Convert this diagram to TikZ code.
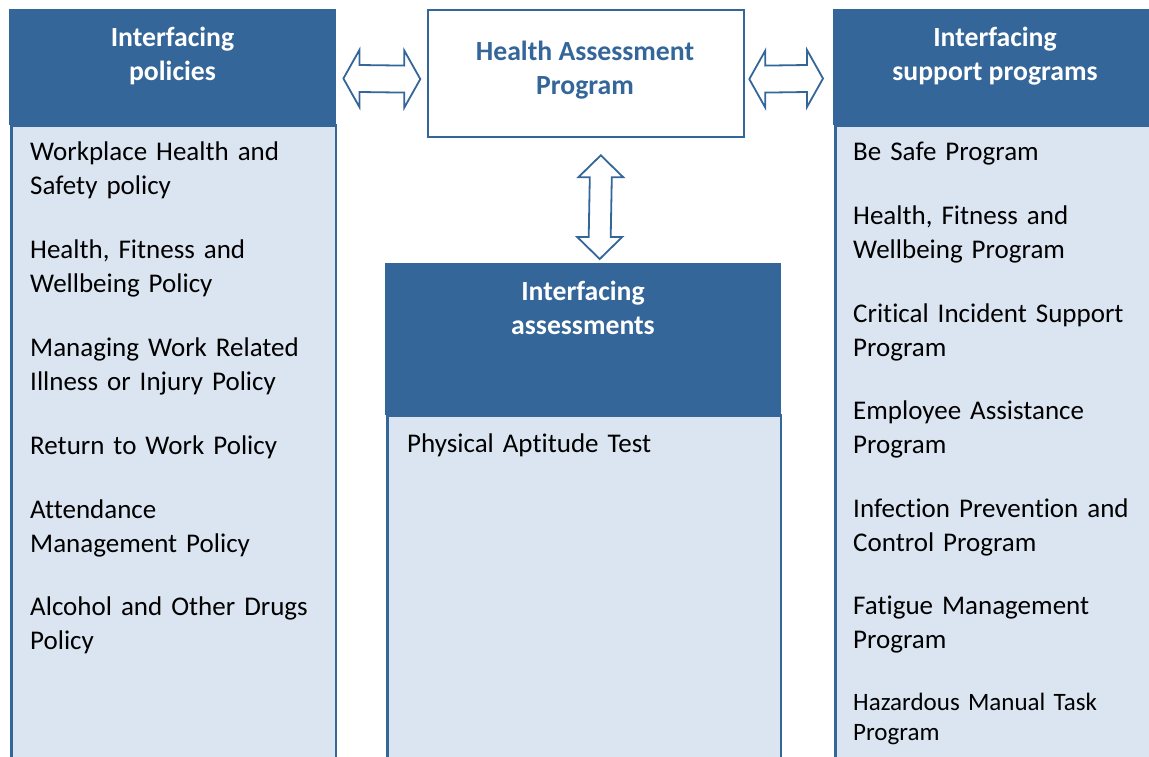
\documentclass[tikz,border=0pt]{standalone}
\usepackage{fontspec}
\setmainfont{Carlito}[Ligatures=NoCommon]
\usetikzlibrary{calc}
\definecolor{hdblue}{RGB}{52,102,153}
\definecolor{bodyblue}{RGB}{219,229,241}
\begin{document}
\begin{tikzpicture}[x=1pt,y=-1pt,
  headbox/.style={fill=hdblue, draw=none, inner sep=0pt, anchor=north west},
  bodybox/.style={fill=bodyblue, draw=hdblue, line width=2.7pt, inner sep=0pt, anchor=north west},
  headtext/.style={text=white, font=\bfseries\fontsize{27.7}{34}\selectfont, align=center, anchor=base, inner sep=0pt},
  item/.style={anchor=base west, inner sep=0pt, text width=300pt, align=left, font=\fontsize{27}{34}\selectfont},
  smallitem/.style={item, font=\fontsize{25}{30.5}\selectfont},
  hapbox/.style={draw=hdblue, line width=2pt, fill=white, inner sep=0pt, anchor=north west},
  haptext/.style={headtext, text=hdblue},
  dblarrow/.style={draw=hdblue, line width=1.8pt, fill=white, line join=miter}
]
\useasboundingbox (0,0) rectangle (1149,757);
\clip (0,0) rectangle (1149,757);

% left column: interfacing policies
\node[bodybox, minimum width=324.3pt, minimum height=660pt] (polbody) at (10.35,124) {};
\node[headbox, minimum width=327pt, minimum height=116pt] (polhead) at (9,8.5) {};
% titles are anchored on the baseline of their last line
\node[headtext] (poltitle) at (172.5,81) {Interfacing\\policies};
\node[item] (p1) at (30,160.5) {Workplace Health and\\Safety policy};
\node[item] (p2) at (30,258.5) {Health, Fitness and\\Wellbeing Policy};
\node[item] (p3) at (30,356) {Managing Work Related\\Illness or Injury Policy};
\node[item] (p4) at (30,454) {Return to Work Policy};
\node[item] (p5) at (30,518) {Attendance\\Management Policy};
\node[item] (p6) at (30,615) {Alcohol and Other Drugs\\Policy};

% centre: the programme itself
\node[hapbox, minimum width=316pt, minimum height=127pt] (hap) at (427.3,9.3) {};
\node[haptext] (haptitle) at (585,95) {Health Assessment\\Program};

% centre column: interfacing assessments
\node[bodybox, minimum width=393.3pt, minimum height=400pt] (assbody) at (386.35,414) {};
\node[headbox, minimum width=396pt, minimum height=152pt] (asshead) at (385,262.3) {};
\node[headtext] (asstitle) at (583,334) {Interfacing\\assessments};
\node[item] (a1) at (407,452) {Physical Aptitude Test};

% right column: interfacing support programs
\node[bodybox, minimum width=330pt, minimum height=660pt] (supbody) at (834.35,124) {};
\node[headbox, minimum width=330pt, minimum height=116pt] (suphead) at (833,8.5) {};
\node[headtext] (suptitle) at (995,81) {Interfacing\\support programs};
\node[item] (s1) at (853,160.5) {Be Safe Program};
\node[item] (s2) at (853,224.5) {Health, Fitness and\\Wellbeing Program};
\node[item] (s3) at (853,322) {Critical Incident Support\\Program};
\node[item] (s4) at (853,419.5) {Employee Assistance\\Program};
\node[item] (s5) at (853,517) {Infection Prevention and\\Control Program};
\node[item] (s6) at (853,614) {Fatigue Management\\Program};
\node[smallitem] (s7) at (853,710) {Hazardous Manual Task\\Program};

% arrow end points
\coordinate (lA) at ($(polhead.north east)+(7,70)$);
\coordinate (lB) at ($(hap.west)+(-7,5.3)$);
\coordinate (rA) at ($(hap.east)+(4,5.3)$);
\coordinate (rB) at ($(suphead.north west)+(-10,70)$);
\coordinate (vA) at ($(hap.south)+(14.5,17)$);
\coordinate (vB) at ($(asshead.north)+(16.5,-3.3)$);

% horizontal double arrows
\foreach \a/\b in {lA/lB, rA/rB}{
  \draw[dblarrow] (\a) -- ++(16,28.5) -- ++(0,-15) -- ($(\b)+(-16,13.5)$) -- ++(0,15)
    -- (\b) -- ++(-16,-28.5) -- ++(0,15) -- ($(\a)+(16,-13.5)$) -- ++(0,-15) -- cycle;
}
% vertical double arrow
\draw[dblarrow] (vA) -- ++(22.5,22) -- ++(-11.5,0) -- ($(vB)+(11,-22)$) -- ++(11.5,0)
  -- (vB) -- ++(-22.5,-22) -- ++(11.5,0) -- ($(vA)+(-11,22)$) -- ++(-11.5,0) -- cycle;
\end{tikzpicture}
\end{document}
